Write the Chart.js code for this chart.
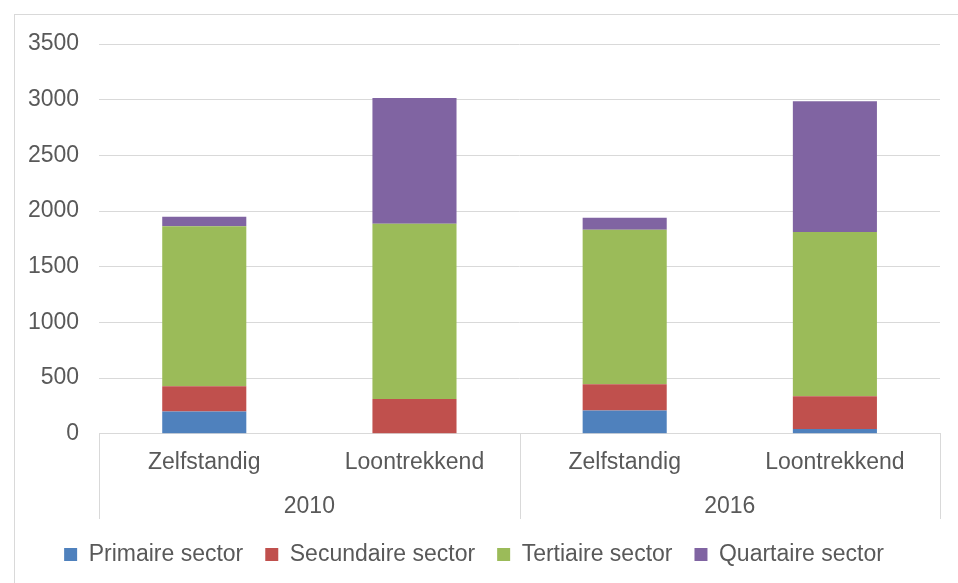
<!DOCTYPE html>
<html>
<head>
<meta charset="utf-8">
<script src="https://cdn.jsdelivr.net/npm/chart.js@4"></script>
<style>
  body { margin: 0; background: #fff; }
  #wrap { position: relative; width: 958px; height: 583px; }
  #frame { position: absolute; left: 14px; top: 14px; right: -2px; bottom: -2px; border: 1px solid #d9d9d9; }
  canvas { position: absolute; left: 0; top: 0; }
</style>
</head>
<body>
<div id="wrap">
  <div id="frame"></div>
  <canvas id="chart" width="958" height="583"></canvas>
</div>
<script>
const categories = ['Zelfstandig', 'Loontrekkend', 'Zelfstandig', 'Loontrekkend'];
const years = ['2010', '2016'];
const primaire = [200, 5, 209, 43];
const secundaire = [228, 308, 237, 295];
const tertiaire = [1435, 1574, 1387, 1475];
const quartaire = [87, 1129, 106, 1173];

const textColor = '#595959';
const gridColor = '#d9d9d9';
const font = { family: '"Liberation Sans", Arial, sans-serif', size: 23 };

// vertical separators between the year groups
const separators = {
    id: 'separators',
    afterDraw: function(chart) {
        const x = chart.scales.x;
        const x2 = chart.scales.x2;
        const mid = (x.getPixelForValue(1) + x.getPixelForValue(2)) / 2;
        const ctx = chart.ctx;
        ctx.save();
        ctx.strokeStyle = gridColor;
        ctx.lineWidth = 1;
        [x.left, mid, x.right].forEach(function(px) {
            ctx.beginPath();
            ctx.moveTo(Math.round(px) + 0.5, x.top);
            ctx.lineTo(Math.round(px) + 0.5, x2.bottom - 2);
            ctx.stroke();
        });
        ctx.restore();
    }
};

function makeSet(label, data, color) {
    return {
        label: label,
        data: data,
        backgroundColor: color,
        borderWidth: 0,
        barPercentage: 0.4,
        categoryPercentage: 1.0
    };
}

new Chart(document.getElementById('chart').getContext('2d'), {
    type: 'bar',
    data: {
        labels: categories,
        datasets: [
            makeSet('Primaire sector', primaire, '#4f81bd'),
            makeSet('Secundaire sector', secundaire, '#c0504d'),
            makeSet('Tertiaire sector', tertiaire, '#9bbb59'),
            makeSet('Quartaire sector', quartaire, '#8064a2')
        ]
    },
    options: {
        responsive: false,
        animation: false,
        layout: { padding: { top: 44, right: 18, left: 8, bottom: 7 } },
        plugins: {
            tooltip: { enabled: false },
            legend: {
                position: 'bottom',
                labels: {
                    color: textColor,
                    font: font,
                    boxWidth: 13,
                    boxHeight: 13,
                    padding: 22
                }
            }
        },
        scales: {
            x: {
                stacked: true,
                grid: { display: false, drawTicks: false },
                border: { color: gridColor },
                ticks: { color: textColor, font: font, padding: 15 }
            },
            x2: {
                type: 'category',
                labels: years,
                position: 'bottom',
                offset: true,
                grid: { display: false, drawTicks: false },
                border: { display: false },
                ticks: { color: textColor, font: font, padding: 1 }
            },
            y: {
                stacked: true,
                min: 0,
                max: 3500,
                ticks: {
                    stepSize: 500,
                    color: textColor,
                    font: font,
                    padding: 20,
                    callback: function(value) { return String(value); }
                },
                grid: { color: gridColor, drawTicks: false },
                border: { display: false }
            }
        }
    },
    plugins: [separators]
});
</script>
</body>
</html>
